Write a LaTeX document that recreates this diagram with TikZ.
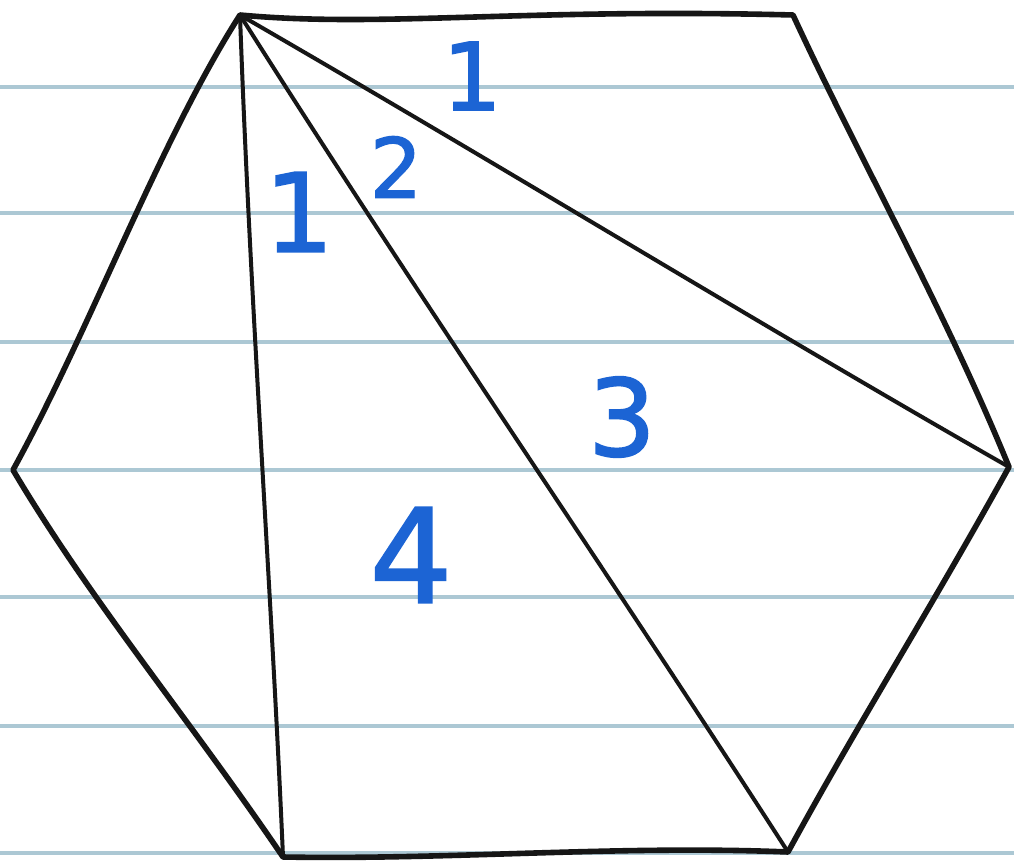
\documentclass[tikz,border=0pt]{standalone}
\usepackage{fontspec}
\newfontfamily\labfont[FakeBold=1.6]{DejaVu Sans}
\definecolor{rule}{RGB}{172,200,212}
\definecolor{ink}{RGB}{22,22,22}
\definecolor{lab}{RGB}{28,100,212}
\tikzset{
  ruleline/.style={draw=rule, line width=2.4pt},
  hexedge/.style={draw=ink, line width=4.2pt, line join=round, line cap=round},
  diag/.style={draw=ink, line width=3pt, line cap=round},
  num/.style={text=lab, inner sep=0pt, font=\labfont},
}
\begin{document}
\begin{tikzpicture}[x=0.75pt, y=-0.75pt]
\fill[white] (0,0) rectangle (1014,866);
\useasboundingbox (0,0) rectangle (1014,866);
% ruled paper lines
\foreach \yy in {87,213,342,470,597,726,853}
  \draw[ruleline] (0,\yy) -- (1014,\yy);
% vertices
\coordinate (A) at (240,15);
\coordinate (B) at (793,15);
\coordinate (C) at (1009,467);
\coordinate (D) at (788,852);
\coordinate (E) at (283,857);
\coordinate (F) at (13,470);
% diagonals
\draw[diag] (A) .. controls (500,165) and (760,325) .. (C);
\draw[diag] (A) .. controls (420,300) and (600,560) .. (D);
\draw[diag] (A) .. controls (250,300) and (272,600) .. (E);
% hexagon
\draw[hexedge] (A) .. controls (380,28) and (520,8) .. (B)
  .. controls (860,160) and (945,310) .. (C)
  .. controls (930,610) and (860,720) .. (D)
  .. controls (620,845) and (450,860) .. (E)
  .. controls (190,720) and (90,600) .. (F)
  .. controls (90,330) and (160,140) .. (A) -- cycle;
% labels
\node[num, font=\labfont\fontsize{70}{70}\selectfont] (l1) at (472,76) {1};
\node[num, font=\labfont\fontsize{62}{62}\selectfont] (l2) at (396,167) {2};
\node[num, font=\labfont\fontsize{82}{82}\selectfont] (l3) at (299,212) {1};
\node[num, font=\labfont\fontsize{80}{80}\selectfont] (l4) at (622,417) {3};
\node[num, font=\labfont\fontsize{98}{98}\selectfont] (l5) at (411,555) {4};
\end{tikzpicture}
\end{document}
